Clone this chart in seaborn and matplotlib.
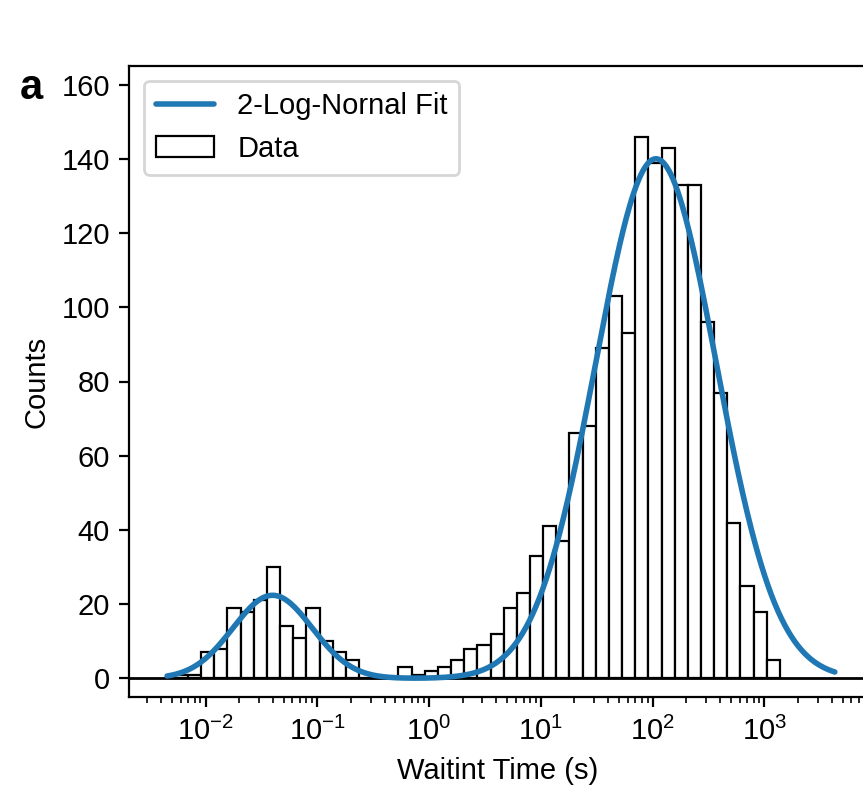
import numpy as np
import pandas as pd
import matplotlib
matplotlib.use("Agg")
import matplotlib.pyplot as plt
import seaborn as sns
from matplotlib.lines import Line2D
from matplotlib.patches import Patch
from matplotlib.ticker import FixedLocator, LogLocator, NullFormatter

# ---- data ----
counts = [1, 1, 7, 8, 19, 18, 21, 30, 14, 11,
          19, 10, 7, 5, 0, 0, 0, 3, 1, 2,
          3, 5, 8, 9, 12, 19, 23, 33, 41, 37,
          66, 68, 89, 103, 93, 146, 139, 143, 133, 133,
          96, 77, 42, 25, 18, 5]
log_bin_lo = -2.2746
log_bin_hi = 3.1386

# 2-log-normal fit parameters (log10 space)
fit_amp = [22.4, 140.0]
fit_mu = [-1.40, 2.03]
fit_sigma = [0.355, 0.54]
fit_log_range = (-2.344, 3.63)

x_ticks = [1e-2, 1e-1, 1e0, 1e1, 1e2, 1e3]
x_ticklabels = [r"$10^{-2}$", r"$10^{-1}$", r"$10^{0}$", r"$10^{1}$",
                r"$10^{2}$", r"$10^{3}$"]
y_ticks = [0, 20, 40, 60, 80, 100, 120, 140, 160]

# ---- derived ----
n_bins = len(counts)
edges_log = np.linspace(log_bin_lo, log_bin_hi, n_bins + 1)
centers = 10 ** ((edges_log[:-1] + edges_log[1:]) / 2)
hist_df = pd.DataFrame({"time": centers, "count": counts})

xl = np.linspace(fit_log_range[0], fit_log_range[1], 600)
yfit = np.zeros_like(xl)
for a, m, s in zip(fit_amp, fit_mu, fit_sigma):
    yfit += a * np.exp(-0.5 * ((xl - m) / s) ** 2)
fit_df = pd.DataFrame({"time": 10 ** xl, "fit": yfit})

sns.set_theme(style="ticks")
plt.rcParams["font.family"] = ["Liberation Sans", "DejaVu Sans"]
plt.rcParams["mathtext.fontset"] = "custom"
plt.rcParams["mathtext.rm"] = "Liberation Sans"
plt.rcParams["mathtext.it"] = "Liberation Sans:italic"
plt.rcParams["mathtext.bf"] = "Liberation Sans:bold"
plt.rcParams["font.size"] = 10.5
plt.rcParams["axes.linewidth"] = 0.8
for k in ["text.color", "axes.labelcolor", "xtick.color", "ytick.color",
          "axes.edgecolor"]:
    plt.rcParams[k] = "black"

fig = plt.figure(figsize=(8.63 / 2, 7.87 / 2), dpi=200)
ax = fig.add_axes([129.4 / 863, 90 / 787, (866 - 129.4) / 863, (697 - 66) / 787])

sns.histplot(data=hist_df, x="time", weights="count", bins=n_bins,
             binrange=(log_bin_lo, log_bin_hi), log_scale=True,
             color="white", edgecolor="black", linewidth=0.8, alpha=1,
             ax=ax, zorder=2)
ax.axhline(0, color="black", lw=1.0, zorder=3)
sns.lineplot(data=fit_df, x="time", y="fit", color="#1f77b4", lw=2.0,
             ax=ax, zorder=4)

ax.set_xscale("log")
ax.set_xlim(10 ** -2.681, 10 ** 3.909)
ax.set_ylim(-5, 165)
ax.set_yticks(y_ticks)
ax.xaxis.set_major_locator(FixedLocator(x_ticks))
ax.set_xticklabels(x_ticklabels)
minor = [m * 10.0 ** e for e in range(-3, 4) for m in range(2, 10)
         if 10 ** -2.681 <= m * 10.0 ** e <= 10 ** 3.909]
ax.xaxis.set_minor_locator(FixedLocator(minor))
ax.xaxis.set_minor_formatter(NullFormatter())
ax.tick_params(axis="both", labelsize=10.5, width=0.8, length=3.5, color="black",
               labelcolor="black")
ax.tick_params(axis="x", which="minor", width=0.6, length=2)
for sp in ax.spines.values():
    sp.set_visible(True)
    sp.set_color("black")

ax.set_xlabel("Waitint Time (s)", fontsize=10.5)
ax.set_ylabel("Counts", fontsize=10.5)

handles = [Line2D([0], [0], color="#1f77b4", lw=2.0, label="2-Log-Nornal Fit"),
           Patch(facecolor="white", edgecolor="black", linewidth=0.8, label="Data")]
ax.legend(handles=handles, loc="upper left", fontsize=10.5, frameon=True)

fig.text(20 / 863, 1 - 99 / 787, "a", fontsize=15, fontweight="bold",
         ha="left", va="baseline")

fig.savefig("out.png", dpi=200)
